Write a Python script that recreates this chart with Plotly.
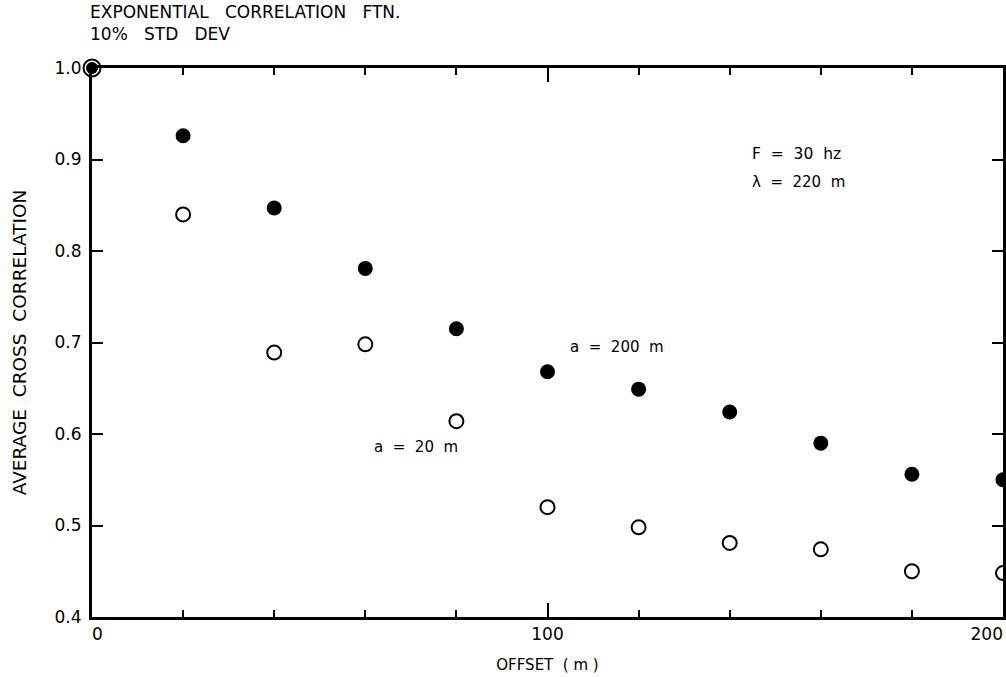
import plotly.graph_objects as go

offset = [0, 20, 40, 60, 80, 100, 120, 140, 160, 180, 200]
corr_a200 = [1.0, 0.926, 0.847, 0.781, 0.715, 0.668, 0.649, 0.624, 0.590, 0.556, 0.550]
corr_a20 = [1.0, 0.840, 0.689, 0.698, 0.614, 0.520, 0.498, 0.481, 0.474, 0.450, 0.448]

x_tickvals = [0, 100, 200]
x_ticktext = ["\u20070", "100", "200\u2007\u2007\u2007"]
y_tickvals = [0.4, 0.5, 0.6, 0.7, 0.8, 0.9, 1.0]
y_ticktext = ["0.4", "0.5", "0.6", "0.7", "0.8", "0.9", "1.0"]

FONT = "DejaVu Sans"
INK = "#000000"

fig = go.Figure()

open_sizes = [17] + [14] * (len(offset) - 1)
fill_sizes = [12] + [15] * (len(offset) - 1)

fig.add_trace(go.Scatter(
    x=offset, y=corr_a20, mode="markers", cliponaxis=False,
    marker=dict(symbol="circle-open", size=open_sizes, color=INK, opacity=1,
                line=dict(width=2, color=INK)),
    showlegend=False, name="a = 20 m"))
fig.add_trace(go.Scatter(
    x=offset, y=corr_a200, mode="markers", cliponaxis=False,
    marker=dict(symbol="circle", size=fill_sizes, color=INK, opacity=1,
                line=dict(width=0)),
    showlegend=False, name="a = 200 m"))

ann_font = dict(family=FONT, size=15, color=INK)
fig.add_annotation(x=100, y=0.695, text="a  =  200  m", showarrow=False,
                   xanchor="left", yanchor="middle", xshift=20, font=ann_font)
fig.add_annotation(x=60, y=0.586, text="a  =  20  m", showarrow=False,
                   xanchor="left", yanchor="middle", xshift=7, font=ann_font)
fig.add_annotation(x=0.725, y=1.0, xref="paper", yref="paper",
                   text="F  =  30  hz", showarrow=False, xanchor="left",
                   yanchor="middle", yshift=-86, xshift=-2,
                   font=dict(family=FONT, size=15.5, color=INK))
fig.add_annotation(x=0.725, y=1.0, xref="paper", yref="paper",
                   text="λ  =  220  m", showarrow=False, xanchor="left",
                   yanchor="middle", yshift=-114, xshift=-2, font=ann_font)

fig.add_annotation(x=-0.004, y=1, xref="paper", yref="paper",
                   text="EXPONENTIAL   CORRELATION   FTN.<br>10%   STD   DEV",
                   showarrow=False, xanchor="left", yanchor="bottom",
                   yshift=22, align="left",
                   font=dict(family=FONT, size=17, color=INK))

axis_common = dict(showline=True, linecolor=INK, linewidth=3, mirror="ticks",
                   ticks="inside", tickcolor=INK, tickwidth=2,
                   showgrid=False, zeroline=False, ticklabeloverflow="allow",
                   automargin=False,
                   tickfont=dict(family=FONT, size=17, color=INK))

fig.update_xaxes(range=[0, 200], tickvals=x_tickvals, ticktext=x_ticktext,
                 ticklen=14,
                 minor=dict(dtick=20, tick0=0, ticks="inside", ticklen=7,
                            tickcolor=INK, tickwidth=2, showgrid=False),
                 title=dict(text="OFFSET  ( m )", standoff=17,
                            font=dict(family=FONT, size=15, color=INK)),
                 **axis_common)
fig.update_yaxes(range=[0.4, 1.0], tickvals=y_tickvals, ticktext=y_ticktext,
                 ticklen=11, ticklabelstandoff=4,
                 title=dict(text="AVERAGE  CROSS  CORRELATION\u2007", standoff=24,
                            font=dict(family=FONT, size=18.5, color=INK)),
                 **axis_common)

fig.update_layout(width=1006, height=677,
                  margin=dict(l=92, r=3, t=68, b=60, pad=0),
                  paper_bgcolor="white", plot_bgcolor="white",
                  font=dict(family=FONT, color=INK))

fig.write_html("out.html")
